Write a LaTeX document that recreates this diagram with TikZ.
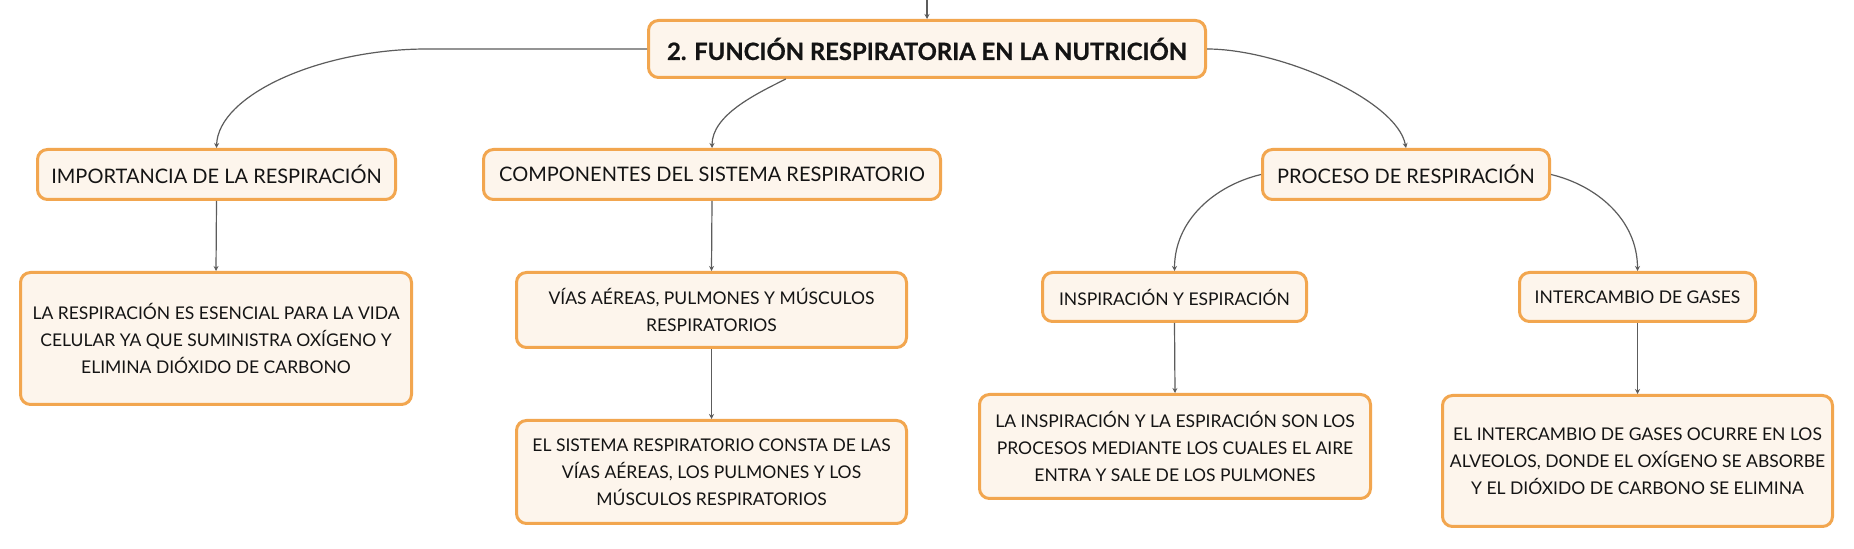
\documentclass[tikz,border=0pt]{standalone}
\usepackage{fontspec}
\setmainfont{Lato}
\newfontfamily\heavyfont{Lato}[BoldFeatures={FakeBold=0.8}]
\usetikzlibrary{arrows.meta}
\definecolor{bord}{HTML}{F2A64F}
\definecolor{fillc}{HTML}{FDF5EC}
\definecolor{linec}{HTML}{5C5C5C}
\definecolor{textc}{HTML}{141414}
\begin{document}
\begin{tikzpicture}[x=0.5pt,y=-0.5pt,
  box/.style={draw=bord, line width=1.5pt, fill=fillc, rounded corners=5pt, inner sep=0pt, align=center, text=textc},
  lvtwo/.style={box, font=\fontsize{10}{14}\selectfont},
  lvthree/.style={box, font=\fontsize{8.75}{13.5}\selectfont},
  conn/.style={draw=linec, line width=0.6pt, -{Stealth[length=2.5pt,width=2.5pt]}}]
\useasboundingbox (0,0) rectangle (1854,549);
\fill[white] (0,0) rectangle (1854,549);
\coordinate (topend) at (927,0);
\node[box, font=\heavyfont\fontsize{11.9}{15}\selectfont\bfseries, minimum width=278.5pt, minimum height=28.5pt] (main) at (927,49) {2. FUNCIÓN RESPIRATORIA EN LA NUTRICIÓN};
\node[lvtwo, minimum width=179pt, minimum height=25pt] (imp) at (216.5,174.5) {IMPORTANCIA DE LA RESPIRACIÓN};
\node[lvtwo, minimum width=228.5pt, minimum height=25pt] (comp) at (712,174.5) {COMPONENTES DEL SISTEMA RESPIRATORIO};
\node[lvtwo, minimum width=143.5pt, minimum height=25pt] (proc) at (1406,174.5) {PROCESO DE RESPIRACIÓN};
\node[lvthree, minimum width=195.5pt, minimum height=66pt] (leafimp) at (216,338.5) {LA RESPIRACIÓN ES ESENCIAL PARA LA VIDA\\CELULAR YA QUE SUMINISTRA OXÍGENO Y\\ELIMINA DIÓXIDO DE CARBONO};
\node[lvthree, minimum width=195pt, minimum height=37.5pt] (vias) at (711.5,310) {VÍAS AÉREAS, PULMONES Y MÚSCULOS\\RESPIRATORIOS};
\node[lvthree, minimum width=195pt, minimum height=51.5pt] (sist) at (711.5,472) {EL SISTEMA RESPIRATORIO CONSTA DE LAS\\VÍAS AÉREAS, LOS PULMONES Y LOS\\MÚSCULOS RESPIRATORIOS};
\node[lvthree, minimum width=132pt, minimum height=24.5pt] (insp) at (1174.5,297) {INSPIRACIÓN Y ESPIRACIÓN};
\node[lvthree, minimum width=195.5pt, minimum height=52pt] (leafinsp) at (1175,446.5) {LA INSPIRACIÓN Y LA ESPIRACIÓN SON LOS\\PROCESOS MEDIANTE LOS CUALES EL AIRE\\ENTRA Y SALE DE LOS PULMONES};
\node[lvthree, minimum width=118pt, minimum height=24.5pt] (inter) at (1637.5,297) {INTERCAMBIO DE GASES};
\node[lvthree, minimum width=195pt, minimum height=65.5pt] (leafinter) at (1637.5,461) {EL INTERCAMBIO DE GASES OCURRE EN LOS\\ALVEOLOS, DONDE EL OXÍGENO SE ABSORBE\\Y EL DIÓXIDO DE CARBONO SE ELIMINA};
% connectors
\draw[conn] (topend) -- (main.north);
\draw[conn] (main.west) -- ++(-220,0) .. controls +(-107,0) and (218,95) .. (imp.north);
\draw[conn] (main.192) .. controls +(-30,15) and +(0,-33) .. (comp.north);
\draw[conn] (main.east) .. controls +(73,0) and +(-9,-48) .. (proc.north);
\draw[conn] (proc.west) .. controls +(-46,11) and +(0,-51) .. (insp.north);
\draw[conn] (proc.east) .. controls +(46,11) and +(0,-51) .. (inter.north);
\draw[conn] (imp.south) -- (leafimp.north);
\draw[conn] (comp.south) -- (vias.north);
\draw[conn] (vias.south) -- (sist.north);
\draw[conn] (insp.south) -- (leafinsp.north);
\draw[conn] (inter.south) -- (leafinter.north);
\end{tikzpicture}
\end{document}
